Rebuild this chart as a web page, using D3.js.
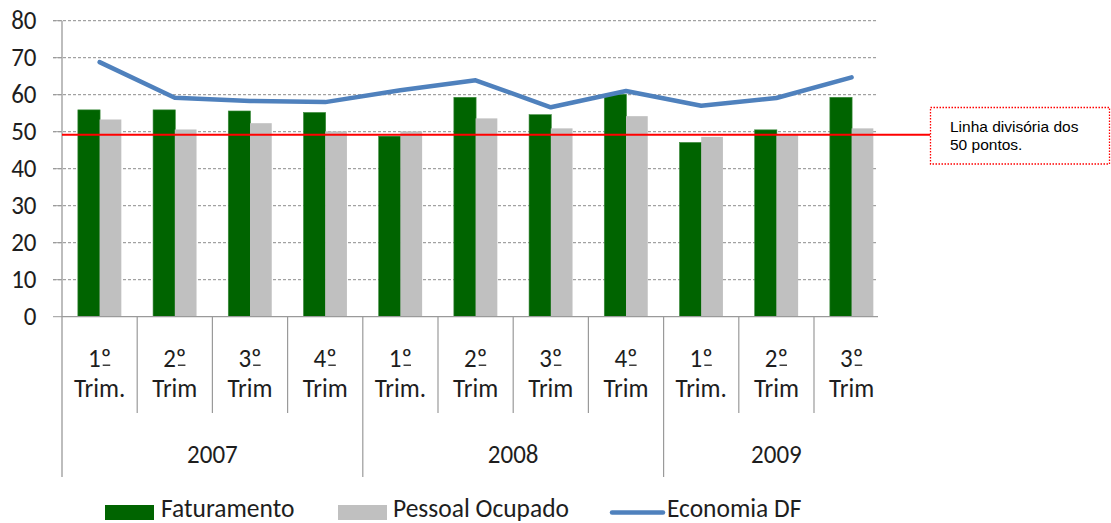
<!DOCTYPE html>
<html><head><meta charset="utf-8">
<script src="https://cdn.jsdelivr.net/npm/d3@7"></script>
<style>html,body{margin:0;padding:0;background:#fff;}svg{display:block;}</style>
</head><body>
<svg id="c" width="1111" height="523"></svg>
<script>
// ---- data ----
const quarters = ["1º|Trim.","2º|Trim","3º|Trim","4º|Trim","1º|Trim.","2º|Trim","3º|Trim","4º|Trim","1º|Trim.","2º|Trim","3º|Trim"];
const years = ["2007","2008","2009"];
const yearOfQuarter = ["2007","2007","2007","2007","2008","2008","2008","2008","2009","2009","2009"];
const faturamento = [55.9, 55.9, 55.6, 55.2, 48.8, 59.3, 54.6, 60.1, 47.1, 50.5, 59.3];
const pessoalOcupado = [53.3, 50.6, 52.3, 50.1, 50.1, 53.6, 50.9, 54.2, 48.6, 49.4, 50.9];
const economiaDF = [68.8, 59.2, 58.3, 58.0, 61.2, 63.9, 56.6, 61.0, 57.0, 59.1, 64.7];
const linhaDivisoria = 49.2;
const seriesNames = ["Faturamento","Pessoal Ocupado","Economia DF"];
const yTicks = [0,10,20,30,40,50,60,70,80];
const noteLines = ["Linha divisória dos","50 pontos."];

// ---- layout ----
const svg = d3.select("#c");
const FONT = "Carlito, Lato, 'Open Sans', sans-serif";
const plotLeft = 62, plotRight = 878, plotTop = 20.7, plotBottom = 316.7;
const step = 75.2;
const idx = d3.range(quarters.length);
const x = d3.scaleBand().domain(idx).range([plotLeft, plotLeft + step*quarters.length]).paddingInner(0).paddingOuter(0);
const xs = d3.scaleBand().domain(["f","p"]).range([0, x.bandwidth()]).paddingInner(0).paddingOuter(0.73);
const y = d3.scaleLinear().domain([0,80]).range([plotBottom, plotTop]);
const STRETCH = 1.05;
const GREEN = "#006400", GRAY = "#c0c0c0", BLUE = "#4f81bd", AXIS = "#9a9a9a", TXT = "#1e1e1e";

function stext(parent, tx, ty, str, size, anchor, fill, family){
  const g = parent.append("g").attr("transform", `translate(${tx},${ty}) scale(1,${STRETCH})`);
  g.append("text").attr("x",0).attr("y",0).attr("text-anchor",anchor||"middle")
    .attr("font-family", family||FONT).attr("font-size", size).attr("fill", fill||"#000").text(str);
  return g;
}

// gridlines
const grid = svg.append("g");
yTicks.filter(t => t>0).forEach(t => {
  grid.append("line").attr("x1", 53).attr("x2", plotRight).attr("y1", y(t)).attr("y2", y(t))
    .attr("stroke", "#8c8c8c").attr("stroke-width", 1).attr("stroke-dasharray", "3,2");
});
// y tick marks (solid short) & labels
yTicks.forEach(t => {
  svg.append("line").attr("x1",53).attr("x2",plotLeft).attr("y1",y(t)).attr("y2",y(t)).attr("stroke",AXIS);
  stext(svg, 36.5, y(t) + 8.2, String(t), 25, "end", TXT);
});

// bars
const bars = svg.append("g");
idx.forEach(i => {
  bars.append("rect").attr("x", x(i)+xs("f")).attr("width", xs.bandwidth()+0.5)
    .attr("y", y(faturamento[i])).attr("height", y(0)-y(faturamento[i]))
    .attr("fill", GREEN).attr("stroke","#3d8a3d").attr("stroke-width",0.6);
  bars.append("rect").attr("x", x(i)+xs("p")).attr("width", xs.bandwidth())
    .attr("y", y(pessoalOcupado[i])).attr("height", y(0)-y(pessoalOcupado[i]))
    .attr("fill", GRAY);
});

// axes lines
svg.append("line").attr("x1",plotLeft).attr("x2",plotLeft).attr("y1",plotTop).attr("y2",477).attr("stroke",AXIS).attr("stroke-width",1.3);
svg.append("line").attr("x1",plotLeft).attr("x2",plotRight).attr("y1",y(0)).attr("y2",y(0)).attr("stroke",AXIS).attr("stroke-width",1.3);

// category dividers
idx.slice(1).forEach(i => {
  const isYear = yearOfQuarter[i] !== yearOfQuarter[i-1];
  svg.append("line").attr("x1",x(i)).attr("x2",x(i)).attr("y1",y(0)).attr("y2", isYear ? 477 : 413)
    .attr("stroke",AXIS).attr("stroke-width",1.2);
});
// category labels
idx.forEach(i => {
  const cx = x(i) + x.bandwidth()/2;
  const parts = quarters[i].split("|");
  const g = stext(svg, cx, 366.7, parts[0], 25, "middle", TXT);
  // underline of the ordinal indicator (as in the original typeface)
  const bb = g.select("text").node().getBBox();
  const right = cx + bb.x + bb.width;
  svg.append("line").attr("x1", right-8.5).attr("x2", right-1).attr("y1", 365.2).attr("y2", 365.2)
    .attr("stroke", TXT).attr("stroke-width", 1.3);
  stext(svg, cx, 396.7, parts[1], 25, "middle", TXT);
});
// year labels
years.forEach(yr => {
  const members = idx.filter(i => yearOfQuarter[i] === yr);
  const x0 = x(members[0]), x1 = x(members[members.length-1]) + x.bandwidth();
  stext(svg, (x0+x1)/2, 462.5, yr, 25, "middle", TXT);
});

// red dividing line
svg.append("line").attr("x1",plotLeft).attr("x2",930).attr("y1",y(linhaDivisoria)).attr("y2",y(linhaDivisoria))
  .attr("stroke","#ff0000").attr("stroke-width",2);

// economia line
const line = d3.line().x((d,i) => x(i)+x.bandwidth()/2).y(d => y(d));
svg.append("path").datum(economiaDF).attr("d", line).attr("fill","none")
  .attr("stroke",BLUE).attr("stroke-width",4.5).attr("stroke-linejoin","round").attr("stroke-linecap","round");

// annotation box
svg.append("rect").attr("x",930.5).attr("y",107.5).attr("width",179).attr("height",56.5)
  .attr("fill","#fff").attr("stroke","#ff0000").attr("stroke-width",1.3).attr("stroke-dasharray","1.5,1.5");
noteLines.forEach((t,k) => {
  svg.append("text").attr("x",950).attr("y",131.5 + k*18).attr("font-family","'Liberation Sans', Arial, sans-serif")
    .attr("font-size",15.5).attr("fill","#000").text(t);
});

// legend
const leg = svg.append("g");
leg.append("rect").attr("x",105).attr("y",505).attr("width",49).attr("height",15).attr("fill",GREEN);
stext(leg, 161, 516.8, seriesNames[0], 25.5, "start", TXT);
leg.append("rect").attr("x",338).attr("y",505).attr("width",49).attr("height",15).attr("fill",GRAY);
stext(leg, 393, 516.8, seriesNames[1], 25.5, "start", TXT);
leg.append("line").attr("x1",612).attr("x2",663).attr("y1",512.5).attr("y2",512.5).attr("stroke",BLUE).attr("stroke-width",4.5).attr("stroke-linecap","round");
stext(leg, 667, 516.8, seriesNames[2], 25.5, "start", TXT);
</script>
</body></html>
